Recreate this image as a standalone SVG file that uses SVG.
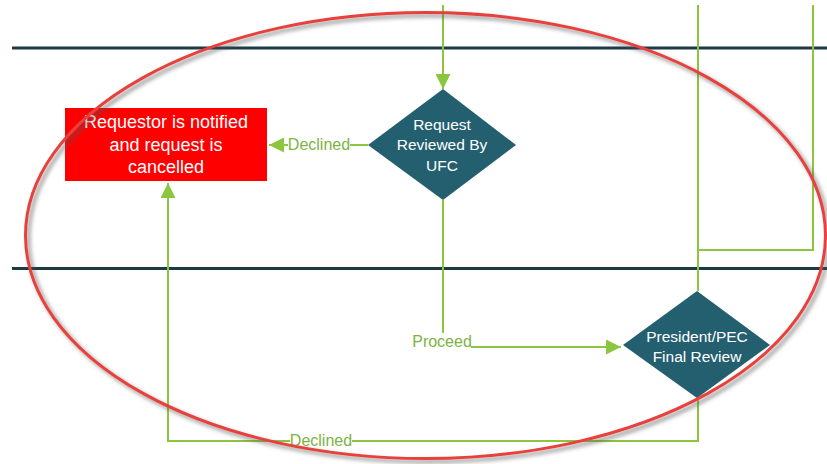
<svg xmlns="http://www.w3.org/2000/svg" width="827" height="464" viewBox="0 0 827 464">
  <style>
    .lane { stroke: #1e3a44; stroke-width: 3; fill: none; }
    .conn { stroke: #8cc63f; stroke-width: 2; fill: none; }
    .lbl { font-family: "Liberation Sans", Arial, sans-serif; font-size: 16px; fill: #7cb342; text-anchor: middle; }
    .box-txt { font-family: "Liberation Sans", Arial, sans-serif; font-size: 18px; fill: #ffffff; text-anchor: middle; }
    .dia-txt { font-family: "Liberation Sans", Arial, sans-serif; font-size: 15.5px; fill: #ffffff; text-anchor: middle; }
    .dia { fill: #245f70; }
  </style>
  <defs>
    <marker id="arrow" viewBox="0 0 10 10" refX="10" refY="5" markerWidth="8" markerHeight="7.5" markerUnits="strokeWidth" orient="auto">
      <path d="M0,0 L10,5 L0,10 z" fill="#8cc63f"/>
    </marker>
    <filter id="shadow" x="-5%" y="-5%" width="110%" height="115%">
      <feDropShadow dx="3" dy="3" stdDeviation="2" flood-color="#555555" flood-opacity="0.7"/>
    </filter>
  </defs>
  <rect width="827" height="464" fill="#ffffff"/>

  <!-- swimlane separators -->
  <g id="lanes">
    <line class="lane" x1="12" y1="48" x2="827" y2="48"/>
    <line class="lane" x1="12" y1="268.5" x2="827" y2="268.5"/>
  </g>

  <!-- connectors -->
  <g id="connectors">
    <line class="conn" x1="443" y1="5" x2="443" y2="89" marker-end="url(#arrow)"/>
    <line class="conn" x1="368" y1="145" x2="269" y2="145" marker-end="url(#arrow)"/>
    <polyline class="conn" points="443,200 443,347 621,347" marker-end="url(#arrow)"/>
    <polyline class="conn" points="698,5 698,291"/>
    <polyline class="conn" points="813,5 813,250 698,250"/>
    <polyline class="conn" points="698,398 698,441 168,441 168,183" marker-end="url(#arrow)"/>
    <!-- labels sit on a white backing over the line -->
    <rect x="288" y="136" width="62" height="17" fill="#ffffff"/>
    <text class="lbl" x="319" y="150">Declined</text>
    <rect x="413" y="333" width="58" height="17" fill="#ffffff"/>
    <text class="lbl" x="442" y="347">Proceed</text>
    <rect x="290" y="432" width="62" height="17" fill="#ffffff"/>
    <text class="lbl" x="321" y="446">Declined</text>
  </g>

  <g id="cancelled">
    <rect x="65" y="108" width="202" height="73" fill="#ff0000"/>
    <text class="box-txt" x="166" y="128">Requestor is notified</text>
    <text class="box-txt" x="166" y="151">and request is</text>
    <text class="box-txt" x="166" y="173">cancelled</text>
  </g>

  <g id="ufc-review">
    <polygon class="dia" points="443,89 516,145 443,200 368,145"/>
    <text class="dia-txt" x="442" y="130">Request</text>
    <text class="dia-txt" x="442" y="150">Reviewed By</text>
    <text class="dia-txt" x="442" y="171">UFC</text>
  </g>

  <g id="final-review">
    <polygon class="dia" points="697,291 770,345 697,398 623,345"/>
    <text class="dia-txt" x="697" y="342">President/PEC</text>
    <text class="dia-txt" x="697" y="362">Final Review</text>
  </g>

  <!-- highlight ring -->
  <g id="highlight">
    <ellipse cx="425.5" cy="235.5" rx="400" ry="223" fill="none" stroke="#e8413c" stroke-width="3" filter="url(#shadow)"/>
  </g>
</svg>
